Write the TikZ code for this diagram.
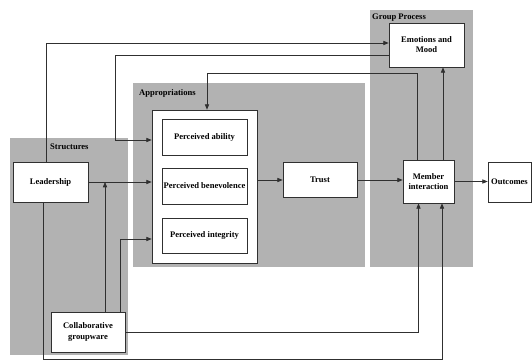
\documentclass[tikz,border=0pt]{standalone}
\usepackage{fontspec}
\setmainfont{Liberation Serif}
\usepackage{tikz}
\usetikzlibrary{positioning, arrows.meta, calc}
\definecolor{RegionGry}{HTML}{B2B2B2}
\definecolor{EdgeGry}  {HTML}{303030}

\begin{document}
\begin{tikzpicture}[x=0.03cm, y=-0.03cm,
    region/.style={fill=RegionGry, draw=none},
    regionlabel/.style={anchor=west, inner sep=0, font=\fontsize{7.3}{8}\selectfont\bfseries},
    box/.style={draw=EdgeGry, fill=white, line width=0.6pt, inner sep=0, align=center,
                font=\fontsize{7.3}{8.6}\selectfont\bfseries},
    arr/.style={draw=EdgeGry, line width=0.6pt, -{Triangle[length=4.5pt, width=3.6pt]}}]
      \useasboundingbox (0,0) rectangle (532,361);
      % ── shaded regions ───────────────────────────────────────────────────────
      \fill[region] (10,138) rectangle (128,355);
      \fill[region] (133,83) rectangle (365,267);
      \fill[region] (370,10) rectangle (473,267);
      \node[regionlabel] (lStruct) at (50,147) {Structures};
      \node[regionlabel] (lAppr)   at (139,93) {Appropriations};
      \node[regionlabel] (lGroup)  at (372,18) {Group Process};
      % ── boxes ────────────────────────────────────────────────────────────────
      \node[box, minimum width=2.25cm, minimum height=1.2cm]  (lead)  at (50.5,182) {Leadership};
      \node[box, minimum width=3.15cm, minimum height=4.59cm] (appr)  at (204.5,186.5) {};
      \node[box, minimum width=2.55cm, minimum height=1.08cm] (abil)  at (204.5,137) {Perceived ability};
      \node[box, minimum width=2.55cm, minimum height=1.08cm] (benev) at (204.5,186) {Perceived benevolence};
      \node[box, minimum width=2.55cm, minimum height=1.05cm] (integ) at (204.5,235.5) {Perceived integrity};
      \node[box, minimum width=2.22cm, minimum height=1.05cm] (trust) at (320,180) {Trust};
      \node[box, minimum width=1.53cm, minimum height=1.29cm] (mem)   at (428.5,181.5) {Member\\interaction};
      \node[box, minimum width=1.29cm, minimum height=1.2cm]  (out)   at (509.5,182) {Outcomes};
      \node[box, minimum width=2.25cm, minimum height=1.32cm] (emo)   at (426.5,45) {Emotions and\\Mood};
      \node[box, minimum width=2.22cm, minimum height=1.2cm]  (grp)   at (88,332) {Collaborative\\groupware};
      % ── bend points ──────────────────────────────────────────────────────────
      \coordinate (kE) at (115,140);
      \coordinate (mU) at ($(mem.north)+(14.5,0)$);
      \coordinate (gL) at ($(grp.north)+(17,0)$);
      % ── main chain ───────────────────────────────────────────────────────────
      \draw[arr] (lead.east) -- (lead.east -| appr.west);
      \draw[arr] (trust.west -| appr.east) -- (trust.west);
      \draw[arr] (trust.east) -- (trust.east -| mem.west);
      \draw[arr] (mem.east) -- (mem.east -| out.west);
      % ── upper feedback lines ─────────────────────────────────────────────────
      \draw[arr] ($(lead.north)+(-4.5,0)$) |- ($(emo.west)+(0,-2)$);
      \draw[arr] ($(emo.west)+(0,10)$) -| (kE) -- (kE -| appr.west);
      \draw[arr] ($(mem.north)+(-11.5,0)$) |- ($(appr.north)+(2.5,-36)$) -- ($(appr.north)+(2.5,0)$);
      \draw[arr] (mU) -- (mU |- emo.south);
      % ── groupware lines ──────────────────────────────────────────────────────
      \draw[arr] (gL) -- (gL |- lead.east);
      \draw[arr] ($(grp.north)+(32,0)$) |- ($(appr.west)+(0,52.5)$);
      \draw[arr] (grp.east) -| ($(mem.south)+(-10,0)$);
      % ── lower loop from leadership ───────────────────────────────────────────
      \draw[arr] ($(lead.south)+(-7.5,0)$) |- ($(mem.south)+(13.5,156)$) -- ($(mem.south)+(13.5,0)$);
    \end{tikzpicture}
\end{document}
